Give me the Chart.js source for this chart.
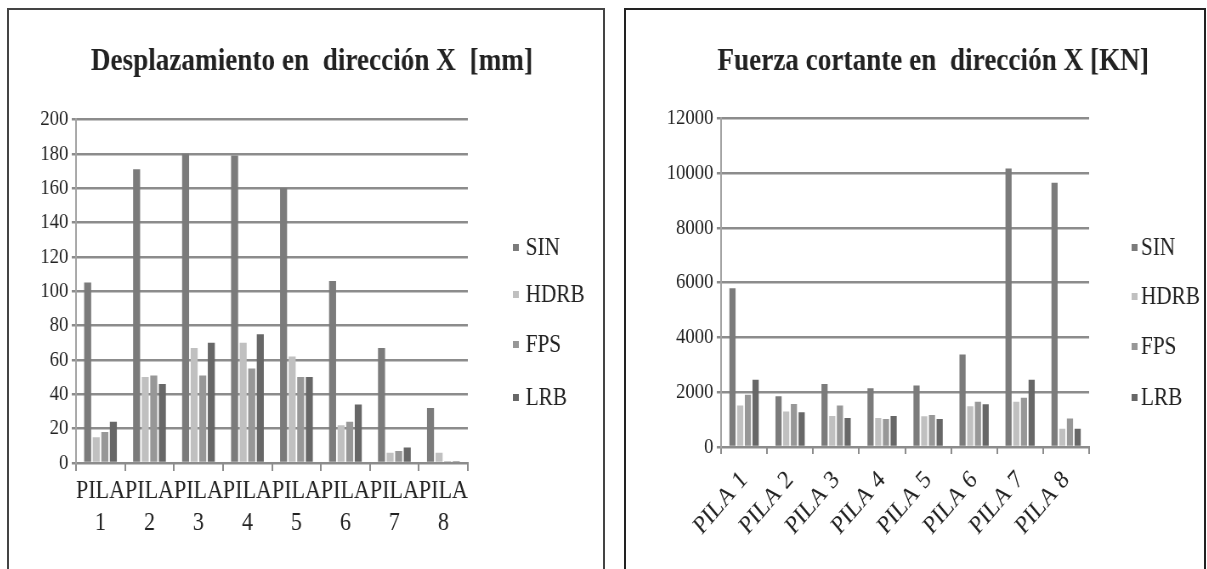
<!DOCTYPE html>
<html>
<head>
<meta charset="utf-8">
<script src="https://cdn.jsdelivr.net/npm/chart.js@4.4.0/dist/chart.umd.min.js"></script>
<style>
  body{margin:0;background:#fff;width:1207px;height:569px;overflow:hidden;position:relative}
  .frame{position:absolute;top:8px;height:570px;border:2px solid #333;border-bottom:none;box-sizing:border-box;z-index:2}
  .wrap{position:absolute;top:8px;transform-origin:0 0;transform:scaleX(0.85)}
</style>
</head>
<body>
<div class="frame" style="left:7px;width:598px;border-color:#444"></div>
<div class="frame" style="left:624px;width:582px;border-color:#222"></div>
<div class="wrap" style="left:8px"><canvas id="desp" width="715" height="561" style="width:715px;height:561px"></canvas></div>
<div class="wrap" style="left:625px"><canvas id="fuerza" width="725" height="561" style="width:725px;height:561px"></canvas></div>
<script>
const pilas = ['PILA 1', 'PILA 2', 'PILA 3', 'PILA 4', 'PILA 5', 'PILA 6', 'PILA 7', 'PILA 8'];
const series = ['SIN', 'HDRB', 'FPS', 'LRB'];
const colors = ['#7b7b7b', '#c0c0c0', '#979797', '#676767'];

// desplazamiento [mm]
const despSIN  = [105, 171, 180, 179, 160, 106, 67, 32];
const despHDRB = [15, 50, 67, 70, 62, 22, 6, 6];
const despFPS  = [18, 51, 51, 55, 50, 24, 7, 1];
const despLRB  = [24, 46, 70, 75, 50, 34, 9, 1];

// fuerza cortante [KN]
const fuerzaSIN  = [5800, 1850, 2300, 2150, 2250, 3380, 10170, 9650];
const fuerzaHDRB = [1520, 1300, 1130, 1060, 1120, 1490, 1650, 670];
const fuerzaFPS  = [1910, 1570, 1520, 1020, 1170, 1650, 1800, 1040];
const fuerzaLRB  = [2460, 1270, 1060, 1130, 1020, 1560, 2460, 670];

const serif = '"Liberation Serif", "Times New Roman", serif';
const gridGray = '#8c8c8c';

// legend drawn at the right, rows placed like the original
const sideLegend = {
  id: 'sideLegend',
  afterDraw(chart, args, o) {
    const ctx = chart.ctx;
    ctx.save();
    ctx.font = '25px ' + serif;
    ctx.textBaseline = 'middle';
    chart.data.datasets.forEach((ds, i) => {
      const y = o.rows[i];
      ctx.fillStyle = ds.backgroundColor;
      ctx.fillRect(o.boxX, y - 4, 7, 7);
      ctx.fillStyle = '#222';
      ctx.fillText(ds.label, o.textX, y);
    });
    ctx.restore();
  }
};

function makeChart(id, title, labels, values, p) {
  return new Chart(document.getElementById(id), {
    type: 'bar',
    plugins: [sideLegend],
    data: {
      labels: labels,
      datasets: values.map((v, i) => ({
        label: series[i],
        data: v,
        backgroundColor: colors[i],
        categoryPercentage: p.catPct,
        barPercentage: p.barPct
      }))
    },
    options: {
      responsive: false,
      animation: false,
      plugins: {
        legend: {display: false},
        tooltip: {enabled: false},
        title: {
          display: true,
          text: title,
          color: '#222',
          font: {family: serif, size: 32, weight: 'bold'},
          padding: {top: p.titleTop, bottom: p.titleBottom}
        },
        sideLegend: p.legend
      },
      scales: {
        x: {
          afterFit: s => { s.height = p.xHeight; },
          grid: {drawOnChartArea: false, color: gridGray, lineWidth: 2, tickLength: p.xTick, offset: true},
          border: {color: gridGray, width: 2},
          ticks: {
            color: '#222',
            font: {family: serif, size: p.xFont, lineHeight: 1.2},
            padding: p.xPad,
            autoSkip: false,
            minRotation: p.rot,
            maxRotation: p.rot
          }
        },
        y: {
          min: 0,
          max: p.max,
          afterFit: s => { s.width = p.yWidth; },
          grid: {color: gridGray, lineWidth: 2.5, tickLength: 5},
          border: {color: '#a3a3a3', width: 2},
          ticks: {
            stepSize: p.step,
            color: '#222',
            padding: 4,
            font: {family: serif, size: 22},
            callback: v => String(v)
          }
        },
        // empty right axis only keeps room for the legend
        room: {
          position: 'right',
          afterFit: s => { s.width = p.right; },
          grid: {display: false},
          border: {display: false},
          ticks: {display: false}
        }
      }
    }
  });
}

makeChart('desp', 'Desplazamiento en  dirección X  [mm]',
  pilas.map(p => p.split(' ')),
  [despSIN, despHDRB, despFPS, despLRB],
  {catPct: 0.7, barPct: 0.82, right: 174, titleTop: 35, titleBottom: 38,
   xHeight: 106, xTick: 8, xPad: 5, xFont: 26, rot: 0, max: 200, step: 20, yWidth: 80,
   legend: {boxX: 594, textX: 609, rows: [240, 287, 337, 390]}});

makeChart('fuerza', 'Fuerza cortante en  dirección X [KN]',
  pilas,
  [fuerzaSIN, fuerzaHDRB, fuerzaFPS, fuerzaLRB],
  {catPct: 0.67, barPct: 0.8, right: 179, titleTop: 35, titleBottom: 37,
   xHeight: 122, xTick: 7, xPad: 11, xFont: 26, rot: 45, max: 12000, step: 2000, yWidth: 113,
   legend: {boxX: 596, textX: 607, rows: [240, 289, 339, 390]}});
</script>
</body>
</html>
